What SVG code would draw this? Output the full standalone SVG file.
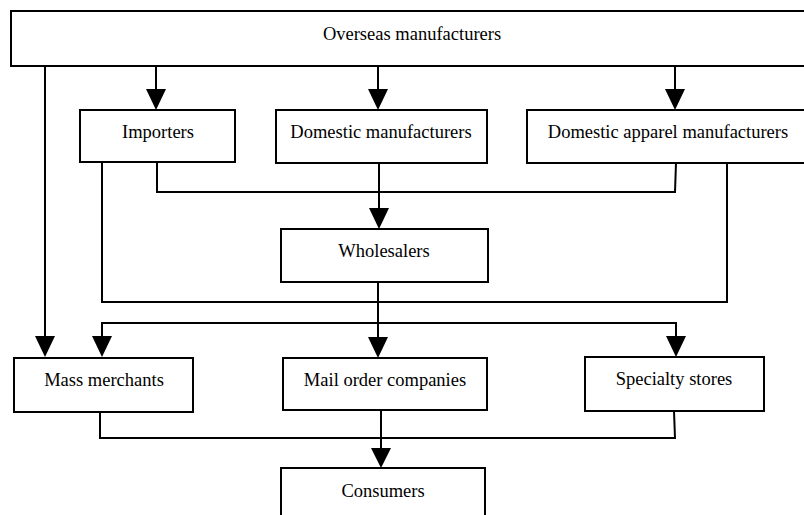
<svg xmlns="http://www.w3.org/2000/svg" width="804" height="515" viewBox="0 0 804 515">
<defs>
<style>
.box{fill:#fff;stroke:#000;stroke-width:2}
.ln{fill:none;stroke:#000;stroke-width:2}
.head{fill:#000}
.lbl{font-family:"Liberation Serif","Times New Roman",serif;font-size:18.5px;fill:#000;text-anchor:middle}
</style>
</defs>
<rect width="804" height="515" fill="#fff"/>
<g id="connectors">
<line class="ln" x1="45" y1="66" x2="45" y2="340"/>
<path class="head" d="M35,336 L55,336 L45,357 Z"/>
<line class="ln" x1="156" y1="66" x2="156" y2="92"/>
<path class="head" d="M146,89 L166,89 L156,110 Z"/>
<line class="ln" x1="378" y1="66" x2="378" y2="92"/>
<path class="head" d="M368,89 L388,89 L378,110 Z"/>
<line class="ln" x1="675" y1="66" x2="675" y2="92"/>
<path class="head" d="M665,89 L685,89 L675,110 Z"/>
<polyline class="ln" points="157,162 157,192 675,192 676,163"/>
<line class="ln" x1="379" y1="163" x2="379" y2="211"/>
<path class="head" d="M369,208 L389,208 L379,229 Z"/>
<polyline class="ln" points="102,162 102,302 727,302 727,163"/>
<line class="ln" x1="378" y1="282" x2="378" y2="340"/>
<path class="head" d="M368,337 L388,337 L378,358 Z"/>
<polyline class="ln" points="102,340 102,323 676,323 676,340"/>
<path class="head" d="M92,336 L112,336 L102,357 Z"/>
<path class="head" d="M666,336 L686,336 L676,357 Z"/>
<polyline class="ln" points="100,412 100,438 675,438 674,411"/>
<line class="ln" x1="381" y1="410" x2="381" y2="451"/>
<path class="head" d="M371,448 L391,448 L381,468 Z"/>
</g>
<g id="overseas"><rect class="box" x="11" y="11" width="805" height="55"/><text class="lbl" x="412" y="40">Overseas manufacturers</text></g>
<g id="importers"><rect class="box" x="80" y="110" width="155" height="52"/><text class="lbl" x="158" y="138">Importers</text></g>
<g id="domestic"><rect class="box" x="276" y="110" width="211" height="53"/><text class="lbl" x="381" y="138">Domestic manufacturers</text></g>
<g id="apparel"><rect class="box" x="527" y="110" width="290" height="53"/><text class="lbl" x="668" y="138">Domestic apparel manufacturers</text></g>
<g id="wholesalers"><rect class="box" x="281" y="229" width="207" height="53"/><text class="lbl" x="384" y="257">Wholesalers</text></g>
<g id="mass"><rect class="box" x="14" y="358" width="179" height="54"/><text class="lbl" x="104" y="386">Mass merchants</text></g>
<g id="mailorder"><rect class="box" x="283" y="358" width="204" height="52"/><text class="lbl" x="385" y="386">Mail order companies</text></g>
<g id="specialty"><rect class="box" x="585" y="357" width="179" height="54"/><text class="lbl" x="674" y="385">Specialty stores</text></g>
<g id="consumers"><rect class="box" x="281" y="468" width="204" height="60"/><text class="lbl" x="383" y="497">Consumers</text></g>
</svg>
